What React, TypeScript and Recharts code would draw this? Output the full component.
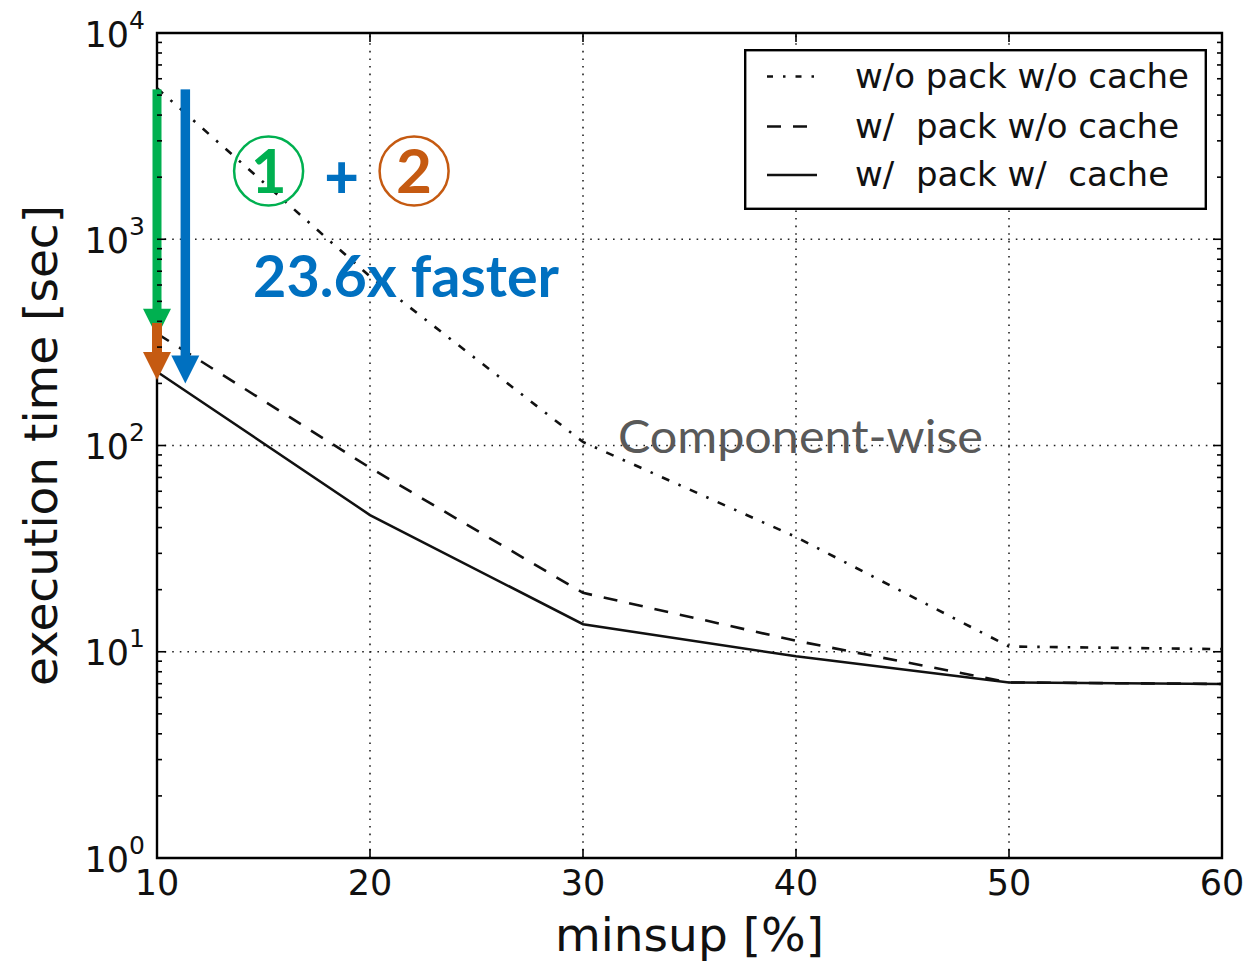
import React from 'react';
import { LineChart, Line, XAxis, YAxis, ReferenceLine, ReferenceDot, ReferenceArea, Legend } from 'recharts';

// ---- data ----
const XS = [10, 20, 30, 40, 50, 60];
const NO_PACK_NO_CACHE = [5400, 660, 104, 36, 10.6, 10.3];
const PACK_NO_CACHE = [349, 78, 19.3, 11.3, 7.1, 6.98];
const PACK_CACHE = [228, 46, 13.6, 9.5, 7.1, 6.98];
const SERIES_NAMES = ['w/o pack w/o cache', 'w/  pack w/o cache', 'w/  pack w/  cache'];
const X_TICKS = [10, 20, 30, 40, 50, 60];
const X_GRID = [20, 30, 40, 50];
const Y_MAJOR = [1, 10, 100, 1000, 10000];
const Y_EXP = ['0', '1', '2', '3', '4'];
const Y_GRID = [10, 100, 1000];
const Y_MINOR = [2, 3, 4, 5, 6, 7, 8, 9, 20, 30, 40, 50, 60, 70, 80, 90, 200, 300, 400, 500, 600, 700, 800, 900, 2000, 3000, 4000, 5000, 6000, 7000, 8000, 9000];

// annotation arrows: x, from, to
const ARROW_X = [10, 10, 11.33];
const ARROW_FROM = [5330, 393, 5330];
const ARROW_TO = [337, 208, 200];
const ARROW_COLORS = ['#00b050', '#c55a11', '#0070c0'];

// annotation texts (data coordinates)
const CIRCLE_1 = { x: 15.24, y: 2143, text: '1' };
const PLUS = { x: 18.67, y: 1982, text: '+' };
const CIRCLE_2 = { x: 22.07, y: 2143, text: '2' };
const FASTER = { x: 14.51, y: 527, text: '23.6x faster' };
const COMPONENT = { x: 31.64, y: 91.6, text: 'Component-wise' };

const data = XS.map((x, i) => ({ x, a: NO_PACK_NO_CACHE[i], b: PACK_NO_CACHE[i], c: PACK_CACHE[i] }));

// ---- layout / style ----
const W = 1248;
const H = 961;
const PLOT_W = 1065;
const PLOT_H = 825;
const FONT = 'DejaVu Sans';
const DASH_STYLES = ['8 10 2.5 10', '14 12', undefined];
const LINE_W = [2.6, 2.6, 2.5];
const INK = '#111';

const YTick = (props: any) => {
  const { x, y, payload } = props;
  const v = payload.value;
  const mi = Y_MAJOR.indexOf(v);
  const major = mi >= 0;
  const len = major ? 9 : 5;
  return (
    <g>
      <line x1={x} x2={x + len} y1={y} y2={y} stroke="#000" strokeWidth={1.6} />
      <line x1={x + PLOT_W} x2={x + PLOT_W - len} y1={y} y2={y} stroke="#000" strokeWidth={1.6} />
      {major && (
        <text x={x - 12} y={y + 13.5} textAnchor="end" fontFamily={FONT} fontSize={35} fill="#111">
          10
          <tspan dy={-18} fontSize={25}>{Y_EXP[mi]}</tspan>
        </text>
      )}
    </g>
  );
};

const XTick = (props: any) => {
  const { x, y, payload } = props;
  return (
    <g>
      <line x1={x} x2={x} y1={y} y2={y - 9} stroke="#000" strokeWidth={1.6} />
      <line x1={x} x2={x} y1={y - PLOT_H} y2={y - PLOT_H + 9} stroke="#000" strokeWidth={1.6} />
      <text x={x} y={y + 37} textAnchor="middle" fontFamily={FONT} fontSize={35} fill="#111">
        {payload.value}
      </text>
    </g>
  );
};

const makeArrow = (color: string, shaftW: number) => (p: any) => {
  const { x1, y1, x2, y2 } = p;
  const headL = 28;
  const headW = 28;
  return (
    <g>
      <rect x={x1 - shaftW / 2} y={y1} width={shaftW} height={Math.max(0, y2 - headL - y1 + 1)} fill={color} />
      <polygon points={`${x2 - headW / 2},${y2 - headL} ${x2 + headW / 2},${y2 - headL} ${x2},${y2}`} fill={color} />
    </g>
  );
};

const SHAFT_W = [9, 10, 9.5];

const CircledDigit = (color: string, text: string) => (p: any) => {
  const { cx, cy } = p;
  return (
    <g>
      <circle cx={cx} cy={cy} r={34.5} fill="none" stroke={color} strokeWidth={2.5} />
      <text x={cx} y={cy + 22} textAnchor="middle" fontFamily="Lato" fontWeight={700} fontSize={62} fill={color}>
        {text}
      </text>
    </g>
  );
};

const PlusShape = (p: any) => (
  <text x={p.cx} y={p.cy + 20} textAnchor="middle" fontFamily="Lato" fontWeight={900} fontSize={60} fill="#0070c0">
    {PLUS.text}
  </text>
);

const FasterShape = (p: any) => (
  <text x={p.cx} y={p.cy} textAnchor="start" fontFamily="Lato" fontWeight={700} fontSize={58} fill="#0070c0" textLength={306} lengthAdjust="spacingAndGlyphs">
    {FASTER.text}
  </text>
);

const ComponentShape = (p: any) => (
  <text x={p.cx} y={p.cy} textAnchor="start" fontFamily="Lato" fontSize={46} fill="#595959" textLength={365} lengthAdjust="spacingAndGlyphs">
    {COMPONENT.text}
  </text>
);

const LegendBox = () => {
  const rows = [27.5, 77.5, 126];
  return (
    <svg width={463} height={161} style={{ display: 'block' }}>
      <rect x={1.2} y={1.2} width={460.6} height={158.6} fill="#fff" stroke="#000" strokeWidth={2.4} />
      {SERIES_NAMES.map((name, i) => (
        <g key={name}>
          <line x1={23} x2={73} y1={rows[i]} y2={rows[i]} stroke={INK} strokeWidth={LINE_W[i]} strokeDasharray={i === 0 ? '6 10 2.5 10' : DASH_STYLES[i]} />
          <text x={111} y={rows[i] + 11} fontFamily={FONT} fontSize={34} fill="#111" style={{ whiteSpace: 'pre' }}>
            {name}
          </text>
        </g>
      ))}
    </svg>
  );
};

export default function App() {
  return (
    <div style={{ position: 'absolute', left: 0, top: 0, width: W, height: H, background: '#fff' }}>
      <LineChart width={W} height={H} data={data} margin={{ top: 33, right: 26, bottom: 0, left: 0 }}>
        <XAxis
          dataKey="x"
          type="number"
          domain={[10, 60]}
          ticks={X_TICKS}
          axisLine={false}
          tickLine={false}
          tickSize={0}
          tickMargin={0}
          height={103}
          tick={<XTick />}
          interval={0}
          label={{
            content: (p: any) => {
              const vb = p.viewBox;
              return (
                <text x={vb.x + vb.width / 2} y={vb.y + 93} textAnchor="middle" fontFamily={FONT} fontSize={47} fill="#111">
                  minsup [%]
                </text>
              );
            },
          }}
        />
        <YAxis
          type="number"
          scale="log"
          domain={[1, 10000]}
          ticks={[...Y_MAJOR, ...Y_MINOR]}
          allowDataOverflow
          axisLine={false}
          tickLine={false}
          tickSize={0}
          tickMargin={0}
          width={157}
          tick={<YTick />}
          interval={0}
          label={{
            content: (p: any) => {
              const vb = p.viewBox;
              const cx = vb.x + 57;
              const cy = vb.y + vb.height / 2;
              return (
                <text x={cx} y={cy} transform={`rotate(-90 ${cx} ${cy})`} textAnchor="middle" fontFamily={FONT} fontSize={47} fill="#111">
                  execution time [sec]
                </text>
              );
            },
          }}
        />
        {Y_GRID.map((v) => (
          <ReferenceLine key={'gy' + v} y={v} stroke="#222" strokeWidth={1.6} strokeDasharray="1.6 6" />
        ))}
        {X_GRID.map((v) => (
          <ReferenceLine key={'gx' + v} x={v} stroke="#222" strokeWidth={1.6} strokeDasharray="1.6 6" />
        ))}
        <Line dataKey="a" name={SERIES_NAMES[0]} stroke={INK} strokeWidth={LINE_W[0]} strokeDasharray={DASH_STYLES[0]} dot={false} activeDot={false} isAnimationActive={false} />
        <Line dataKey="b" name={SERIES_NAMES[1]} stroke={INK} strokeWidth={LINE_W[1]} strokeDasharray={DASH_STYLES[1]} dot={false} activeDot={false} isAnimationActive={false} />
        <Line dataKey="c" name={SERIES_NAMES[2]} stroke={INK} strokeWidth={LINE_W[2]} dot={false} activeDot={false} isAnimationActive={false} />
        <ReferenceArea x1={10} x2={60} y1={1} y2={10000} fill="none" fillOpacity={0} stroke="#000" strokeWidth={2.4} ifOverflow="visible" />
        {ARROW_X.map((x, i) => (
          <ReferenceLine
            key={'arrow' + i}
            segment={[{ x, y: ARROW_FROM[i] }, { x, y: ARROW_TO[i] }]}
            ifOverflow="visible"
            shape={makeArrow(ARROW_COLORS[i], SHAFT_W[i])}
          />
        ))}
        <ReferenceDot x={CIRCLE_1.x} y={CIRCLE_1.y} ifOverflow="visible" shape={CircledDigit('#00b050', CIRCLE_1.text)} />
        <ReferenceDot x={PLUS.x} y={PLUS.y} ifOverflow="visible" shape={PlusShape} />
        <ReferenceDot x={CIRCLE_2.x} y={CIRCLE_2.y} ifOverflow="visible" shape={CircledDigit('#c55a11', CIRCLE_2.text)} />
        <ReferenceDot x={FASTER.x} y={FASTER.y} ifOverflow="visible" shape={FasterShape} />
        <ReferenceDot x={COMPONENT.x} y={COMPONENT.y} ifOverflow="visible" shape={ComponentShape} />
        <Legend
          layout="vertical"
          align="center"
          verticalAlign="middle"
          content={<LegendBox />}
          wrapperStyle={{ left: 744, top: 49, width: 463, height: 161 }}
        />
      </LineChart>
    </div>
  );
}
